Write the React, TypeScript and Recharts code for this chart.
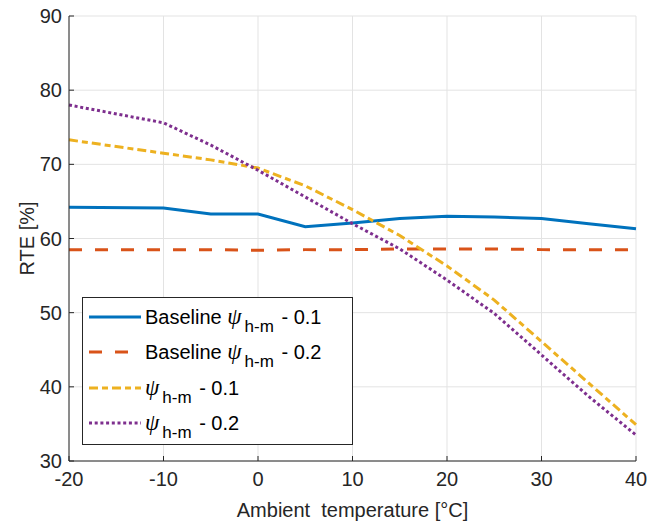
import React from "react";
import {
  LineChart,
  Line,
  XAxis,
  YAxis,
  CartesianGrid,
  Legend,
} from "recharts";

const temps = [-20, -10, -5, 0, 5, 10, 15, 20, 25, 30, 35, 40];
const baseline01 = [64.2, 64.1, 63.3, 63.3, 61.6, 62.1, 62.7, 63.0, 62.9, 62.7, 62.0, 61.3];
const baseline02 = [58.5, 58.5, 58.5, 58.4, 58.5, 58.5, 58.6, 58.6, 58.6, 58.5, 58.5, 58.5];
const psi01 = [73.3, 71.5, 70.6, 69.5, 67.1, 63.9, 60.4, 56.3, 51.7, 46.1, 40.5, 34.9];
const psi02 = [78.0, 75.6, 72.6, 69.2, 65.6, 62.0, 58.6, 54.4, 49.9, 44.3, 38.7, 33.5];

const xTicks = [-20, -10, 0, 10, 20, 30, 40];
const yTicks = [30, 40, 50, 60, 70, 80, 90];

const data = temps.map((t, i) => ({
  t,
  b1: baseline01[i],
  b2: baseline02[i],
  p1: psi01[i],
  p2: psi02[i],
}));

const FONT = '"Liberation Sans", Arial, Helvetica, sans-serif';
const AXIS = "#262626";

const series = [
  { key: "b1", color: "#0072BD", dash: undefined as string | undefined, base: true, val: "0.1" },
  { key: "b2", color: "#D95319", dash: "13 13", base: true, val: "0.2" },
  { key: "p1", color: "#EDB120", dash: "9 4 6 4", base: false, val: "0.1" },
  { key: "p2", color: "#7E2F8E", dash: "3 2.7", base: false, val: "0.2" },
];

const BottomTick = (props: any) => {
  const { x, y, payload } = props;
  return (
    <g>
      <line x1={x} y1={y} x2={x} y2={y - 5} stroke={AXIS} />
      <text x={x} y={y + 18} textAnchor="middle" dominantBaseline="central" fill={AXIS} fontSize={20} fontFamily={FONT}>
        {payload.value}
      </text>
    </g>
  );
};

const LeftTick = (props: any) => {
  const { x, y, payload } = props;
  return (
    <g>
      <line x1={x} y1={y} x2={x + 5} y2={y} stroke={AXIS} />
      <text x={x - 7} y={y} textAnchor="end" dominantBaseline="central" fill={AXIS} fontSize={20} fontFamily={FONT}>
        {payload.value}
      </text>
    </g>
  );
};

const TopTick = (props: any) => {
  const { x, y } = props;
  return <line x1={x} y1={y} x2={x} y2={y + 5} stroke={AXIS} />;
};

const RightTick = (props: any) => {
  const { x, y } = props;
  return <line x1={x} y1={y} x2={x - 5} y2={y} stroke={AXIS} />;
};

const Psi = () => (
  <>
    <span style={{ fontFamily: '"Liberation Serif", "DejaVu Serif", serif', fontStyle: "italic", fontSize: 23 }}>ψ</span>
    <sub style={{ fontSize: 17, verticalAlign: "-8px", lineHeight: 0, marginLeft: 3, marginRight: 2 }}>h-m</sub>
  </>
);

const LegendBox = () => (
  <div
    style={{
      width: 271,
      height: 148,
      border: `1px solid ${AXIS}`,
      background: "#fff",
      boxSizing: "border-box",
      fontFamily: FONT,
      fontSize: 20,
      color: "#000",
      position: "relative",
    }}
  >
    {series.map((s, i) => (
      <div key={s.key} style={{ position: "absolute", left: 0, top: 20 + i * 35.3 - 15, height: 28, display: "flex", alignItems: "center", whiteSpace: "nowrap" }}>
        <svg width={57} height={10} style={{ marginLeft: 5 }}>
          <line x1={1} y1={5} x2={53} y2={5} stroke={s.color} strokeWidth={3} strokeDasharray={s.dash} />
        </svg>
        <span>
          {s.base ? "Baseline " : ""}
          <Psi /> - {s.val}
        </span>
      </div>
    ))}
  </div>
);

export default function App() {
  return (
    <div style={{ position: "absolute", left: 0, top: 0, background: "#fff" }}>
      <LineChart width={647} height={525} data={data} margin={{ top: 16, right: 11, bottom: 0, left: 0 }}>
        <CartesianGrid xAxisId="b" yAxisId="l" stroke="#e3e3e3" strokeWidth={1} />
        <XAxis
          xAxisId="b"
          dataKey="t"
          type="number"
          domain={[-20, 40]}
          ticks={xTicks}
          height={64}
          tickSize={0}
          tickMargin={0}
          tick={<BottomTick />}
          tickLine={false}
          axisLine={{ stroke: AXIS }}
          label={{
            content: (p: any) => {
              const vb = p.viewBox;
              return (
                <text x={vb.x + vb.width / 2} y={vb.y + 49} textAnchor="middle" dominantBaseline="central" fill={AXIS} fontSize={20} fontFamily={FONT} style={{ whiteSpace: "pre" }}>
                  Ambient  temperature [°C]
                </text>
              );
            },
          }}
        />
        <XAxis
          xAxisId="t"
          dataKey="t"
          type="number"
          orientation="top"
          domain={[-20, 40]}
          ticks={xTicks}
          height={0}
          tickSize={0}
          tickMargin={0}
          tick={<TopTick />}
          tickLine={false}
          axisLine={{ stroke: AXIS }}
        />
        <YAxis
          yAxisId="l"
          domain={[30, 90]}
          ticks={yTicks}
          width={69}
          tickSize={0}
          tickMargin={0}
          tick={<LeftTick />}
          tickLine={false}
          axisLine={{ stroke: AXIS }}
          label={{
            content: (p: any) => {
              const vb = p.viewBox;
              const cy = vb.y + vb.height / 2;
              return (
                <text x={27} y={cy} transform={`rotate(-90 27 ${cy})`} textAnchor="middle" dominantBaseline="central" fill={AXIS} fontSize={20} fontFamily={FONT}>
                  RTE [%]
                </text>
              );
            },
          }}
        />
        <YAxis
          yAxisId="r"
          orientation="right"
          domain={[30, 90]}
          ticks={yTicks}
          width={0}
          tickSize={0}
          tickMargin={0}
          tick={<RightTick />}
          tickLine={false}
          axisLine={{ stroke: AXIS }}
        />
        {series.map((s) => (
          <Line
            key={s.key}
            xAxisId="b"
            yAxisId="l"
            dataKey={s.key}
            type="linear"
            stroke={s.color}
            strokeWidth={3}
            strokeDasharray={s.dash}
            dot={false}
            activeDot={false}
            isAnimationActive={false}
          />
        ))}
        <Legend
          layout="horizontal"
          verticalAlign="middle"
          align="center"
          content={() => <LegendBox />}
          wrapperStyle={{ position: "absolute", left: 82, top: 297, width: 271, height: 148 }}
        />
      </LineChart>
    </div>
  );
}
